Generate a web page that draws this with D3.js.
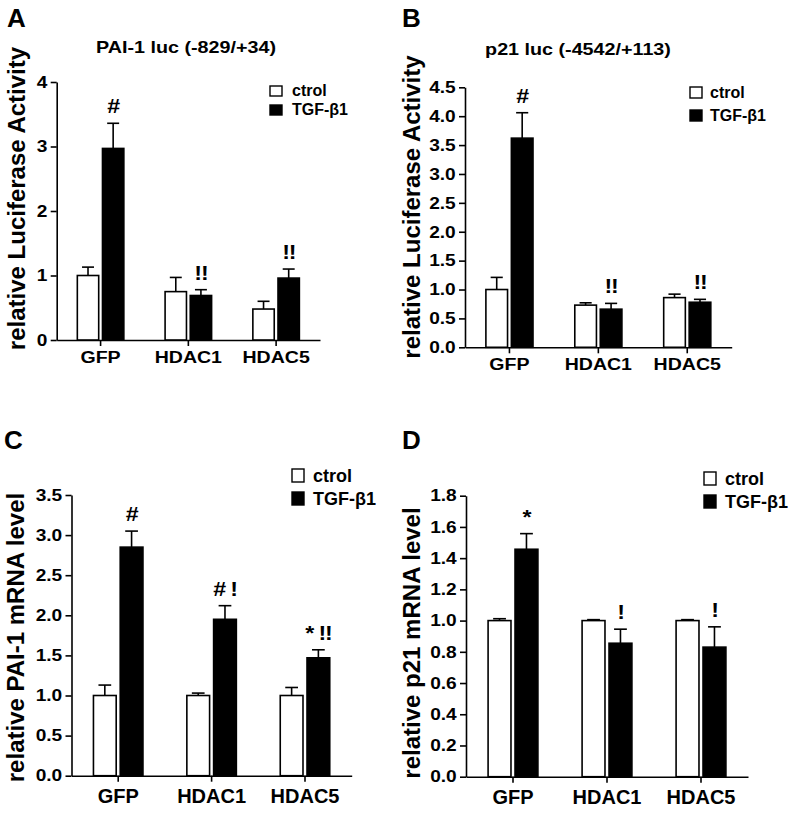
<!DOCTYPE html>
<html>
<head>
<meta charset="utf-8">
<script src="https://cdn.jsdelivr.net/npm/d3@7/dist/d3.min.js"></script>
<style>
  html, body { margin: 0; padding: 0; background: #fff; }
  svg { display: block; font-family: "Liberation Sans", Arial, Helvetica, sans-serif; font-weight: bold; }
</style>
</head>
<body>
<script>
// ---------------- DATA ----------------
const categories = ["GFP", "HDAC1", "HDAC5"];
const seriesNames = ["ctrol", "TGF-β1"];

// Panel A: PAI-1 luc (-829/+34)
const ctrlA = [1.00, 0.75, 0.48];
const ctrlErrA = [0.13, 0.22, 0.12];
const tgfA = [2.97, 0.69, 0.96];
const tgfErrA = [0.39, 0.09, 0.14];
const marksA = ["#", "!!", "!!"];
const ticksA = [0, 1, 2, 3, 4];

// Panel B: p21 luc (-4542/+113)
const ctrlB = [1.00, 0.73, 0.86];
const ctrlErrB = [0.21, 0.04, 0.06];
const tgfB = [3.62, 0.66, 0.78];
const tgfErrB = [0.44, 0.10, 0.05];
const marksB = ["#", "!!", "!!"];
const ticksB = [0, 0.5, 1.0, 1.5, 2.0, 2.5, 3.0, 3.5, 4.0, 4.5];

// Panel C: PAI-1 mRNA
const ctrlC = [1.00, 1.00, 1.00];
const ctrlErrC = [0.13, 0.03, 0.10];
const tgfC = [2.85, 1.95, 1.47];
const tgfErrC = [0.20, 0.17, 0.10];
const marksC = ["#", "# !", "* !!"];
const ticksC = [0, 0.5, 1.0, 1.5, 2.0, 2.5, 3.0, 3.5];

// Panel D: p21 mRNA
const ctrlD = [1.00, 1.00, 1.00];
const ctrlErrD = [0.012, 0.006, 0.006];
const tgfD = [1.457, 0.855, 0.83];
const tgfErrD = [0.10, 0.09, 0.13];
const marksD = ["*", "!", "!"];
const ticksD = [0, 0.2, 0.4, 0.6, 0.8, 1.0, 1.2, 1.4, 1.6, 1.8];

const panelLetters = ["A", "B", "C", "D"];
const titles = ["PAI-1 luc (-829/+34)", "p21 luc (-4542/+113)", "", ""];
const yLabels = ["relative Luciferase Activity", "relative Luciferase Activity",
                 "relative PAI-1 mRNA level", "relative p21 mRNA level"];

// ---------------- LAYOUT ----------------
const panels = [
  { letter: panelLetters[0], title: titles[0], ylabel: yLabels[0],
    ctrl: ctrlA, ctrlErr: ctrlErrA, tgf: tgfA, tgfErr: tgfErrA, marks: marksA, ticks: ticksA, fmt: "d",
    x0: 56.7, x1: 320, y0: 340, yTop: 82,
    letterX: 7, letterY: 27, titleX: 186, titleY: 53, ylX: 25, ylY: 198.5,
    legX: 270, legY1: 86, legY2: 105, legH: 10, legFont: 16, legTx: 292,
    catFont: 17, catSx: 1.15, catPad: 5 },
  { letter: panelLetters[1], title: titles[1], ylabel: yLabels[1],
    ctrl: ctrlB, ctrlErr: ctrlErrB, tgf: tgfB, tgfErr: tgfErrB, marks: marksB, ticks: ticksB, fmt: ".1f",
    x0: 465, x1: 731.7, y0: 347.3, yTop: 87.3,
    letterX: 402, letterY: 27, titleX: 578, titleY: 55, ylX: 420, ylY: 207,
    legX: 690, legY1: 87, legY2: 110, legH: 11, legFont: 16, legTx: 710,
    catFont: 17, catSx: 1.15, catPad: 5 },
  { letter: panelLetters[2], title: titles[2], ylabel: yLabels[2],
    ctrl: ctrlC, ctrlErr: ctrlErrC, tgf: tgfC, tgfErr: tgfErrC, marks: marksC, ticks: ticksC, fmt: ".1f",
    x0: 71.5, x1: 351.7, y0: 775.7, yTop: 495,
    letterX: 4, letterY: 449, titleX: 0, titleY: 0, ylX: 24, ylY: 637.5,
    legX: 292, legY1: 469, legY2: 492, legH: 13, legFont: 18, legTx: 313,
    catFont: 20, catSx: 1.0, catPad: 7 },
  { letter: panelLetters[3], title: titles[3], ylabel: yLabels[3],
    ctrl: ctrlD, ctrlErr: ctrlErrD, tgf: tgfD, tgfErr: tgfErrD, marks: marksD, ticks: ticksD, fmt: ".1f",
    x0: 466, x1: 748, y0: 776.7, yTop: 495.7,
    letterX: 402, letterY: 449, titleX: 0, titleY: 0, ylX: 420, ylY: 643,
    legX: 704, legY1: 472, legY2: 495, legH: 13, legFont: 18, legTx: 725,
    catFont: 20, catSx: 1.0, catPad: 7 }
];

const TEXT_SX = 1.16;   // horizontal stretch of the original figure's text
const svg = d3.select("body").append("svg").attr("width", 790).attr("height", 813);

function drawPanel(p) {
  const g = svg.append("g");
  const y = d3.scaleLinear().domain([0, d3.max(p.ticks)]).range([p.y0, p.yTop]);
  const x = d3.scaleBand().domain(categories).range([p.x0, p.x1]).padding(0);
  const step = x.bandwidth();
  const inner = d3.scaleBand().domain(seriesNames).range([-0.265 * step, 0.265 * step]).paddingInner(0.15);
  const bw = inner.bandwidth();

  // Y axis
  const ya = g.append("g")
    .attr("transform", `translate(${p.x0},0)`)
    .call(d3.axisLeft(y).tickValues(p.ticks).tickFormat(d3.format(p.fmt))
      .tickSize(6).tickSizeOuter(0).tickPadding(2));
  ya.selectAll("path, line").attr("stroke", "#000").attr("stroke-width", 1.6);
  ya.selectAll("text").attr("fill", "#000").attr("font-size", 16.5)
    .attr("font-weight", "bold").attr("font-family", "Liberation Sans, Arial, sans-serif")
    .attr("transform", `scale(${TEXT_SX},1)`);

  // X axis
  const xa = g.append("g")
    .attr("transform", `translate(0,${p.y0})`)
    .call(d3.axisBottom(x).tickSize(6).tickSizeOuter(0).tickPadding(p.catPad));
  xa.selectAll("path, line").attr("stroke", "#000").attr("stroke-width", 1.6);
  xa.selectAll("text").attr("fill", "#000").attr("font-size", p.catFont)
    .attr("font-weight", "bold").attr("font-family", "Liberation Sans, Arial, sans-serif")
    .attr("transform", `scale(${p.catSx},1)`);

  const values = [p.ctrl, p.tgf];
  const errs = [p.ctrlErr, p.tgfErr];
  const fills = ["#fff", "#000"];

  seriesNames.forEach((s, si) => {
    const rows = categories.map((c, i) => ({ c, v: values[si][i], e: errs[si][i] }));
    const cx = d => x(d.c) + step / 2 + inner(s);
    // error bars (upward only)
    g.append("g").selectAll("line.err").data(rows).join("line")
      .attr("x1", d => cx(d) + bw / 2).attr("x2", d => cx(d) + bw / 2)
      .attr("y1", d => y(d.v)).attr("y2", d => y(d.v + d.e))
      .attr("stroke", "#000").attr("stroke-width", 1.6);
    g.append("g").selectAll("line.cap").data(rows).join("line")
      .attr("x1", d => cx(d) + bw / 2 - bw * 0.28).attr("x2", d => cx(d) + bw / 2 + bw * 0.28)
      .attr("y1", d => y(d.v + d.e)).attr("y2", d => y(d.v + d.e))
      .attr("stroke", "#000").attr("stroke-width", 1.6);
    // bars
    g.append("g").selectAll("rect").data(rows).join("rect")
      .attr("x", d => cx(d)).attr("width", bw)
      .attr("y", d => y(d.v)).attr("height", d => y(0) - y(d.v))
      .attr("fill", fills[si]).attr("stroke", "#000").attr("stroke-width", 1.6);
  });

  // significance marks above TGF bars
  const markRows = categories.map((c, i) => ({ c, v: p.tgf[i], e: p.tgfErr[i], m: p.marks[i] }));
  g.append("g").selectAll("text").data(markRows).join("text")
    .attr("transform", d => `translate(${x(d.c) + step / 2 + inner(seriesNames[1]) + bw / 2},${y(d.v + d.e) - 10}) scale(${TEXT_SX},1)`)
    .attr("text-anchor", "middle").attr("font-size", 20).attr("letter-spacing", -1)
    .text(d => d.m);

  // panel letter
  g.append("text").attr("x", p.letterX).attr("y", p.letterY)
    .attr("font-size", 26).text(p.letter);

  // title
  if (p.title) {
    g.append("text")
      .attr("transform", `translate(${p.titleX},${p.titleY}) scale(${TEXT_SX},1)`)
      .attr("text-anchor", "middle").attr("font-size", 17).text(p.title);
  }

  // y label
  g.append("text")
    .attr("transform", `translate(${p.ylX},${p.ylY}) rotate(-90)`)
    .attr("text-anchor", "middle").attr("font-size", 24).text(p.ylabel);

  // legend
  const legYs = [p.legY1, p.legY2];
  seriesNames.forEach((s, si) => {
    g.append("rect").attr("x", p.legX).attr("y", legYs[si])
      .attr("width", 12).attr("height", p.legH)
      .attr("fill", fills[si]).attr("stroke", "#000").attr("stroke-width", 1.4);
    g.append("text").attr("x", p.legTx).attr("y", legYs[si] + p.legH)
      .attr("font-size", p.legFont).text(s);
  });
}

panels.forEach(drawPanel);
</script>
</body>
</html>
